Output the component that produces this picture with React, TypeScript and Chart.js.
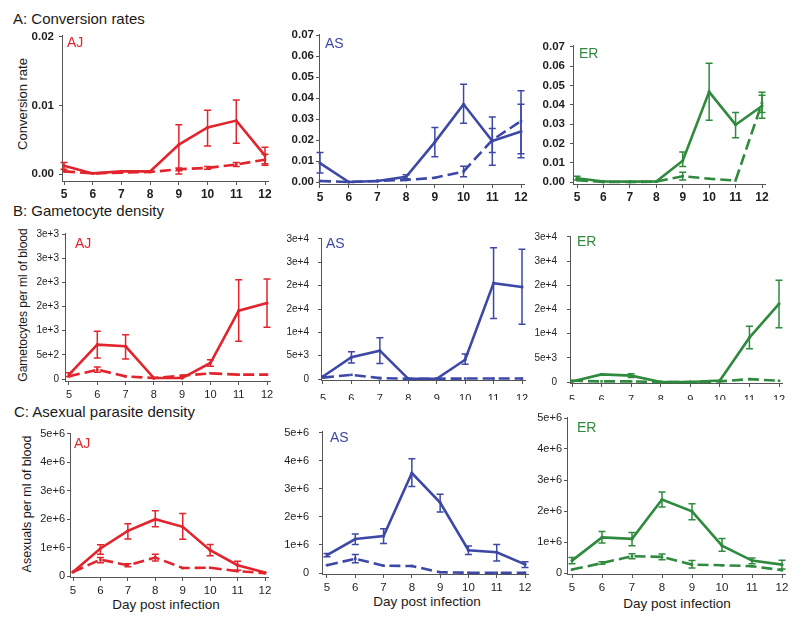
import React, { useEffect, useRef } from "react";
import { Chart, registerables } from "chart.js";
Chart.register(...registerables);

const FONT = '"Liberation Sans", Arial, Helvetica, sans-serif';
Chart.defaults.font.family = FONT;

const days = [5, 6, 7, 8, 9, 10, 11, 12];
const dayLabels = ["5", "6", "7", "8", "9", "10", "11", "12"];

const RED = "#e2242d";
const BLUE = "#3d48a6";
const GREEN = "#2f8a3e";

// ---- Tick values / labels
const convTicksAJ = [0, 0.01, 0.02];
const convLabelsAJ = ["0.00", "0.01", "0.02"];
const convTicks = [0, 0.01, 0.02, 0.03, 0.04, 0.05, 0.06, 0.07];
const convLabels = ["0.00", "0.01", "0.02", "0.03", "0.04", "0.05", "0.06", "0.07"];
const gamTicksAJ = [0, 500, 1000, 1500, 2000, 2500, 3000];
const gamLabelsAJ = ["0", "5e+2", "1e+3", "2e+3", "2e+3", "3e+3", "3e+3"];
const gamTicks = [0, 5000, 10000, 15000, 20000, 25000, 30000];
const gamLabels = ["0", "5e+3", "1e+4", "2e+4", "2e+4", "3e+4", "3e+4"];
const asxTicks = [0, 1e6, 2e6, 3e6, 4e6, 5e6];
const asxLabels = ["0", "1e+6", "2e+6", "3e+6", "4e+6", "5e+6"];

// ---- A: conversion rates
const convAJ = [0.0012, 0.0001, 0.0004, 0.0004, 0.0043, 0.0068, 0.0078, 0.0027];
const convAJHi = [0.0017, null, null, null, 0.0072, 0.0093, 0.0108, 0.0039];
const convAJLo = [0.0007, null, null, null, 0.0, 0.0041, 0.0045, 0.0015];
const convAJd = [0.0004, 0.0001, 0.0002, 0.0003, 0.0007, 0.0009, 0.0014, 0.0021];
const convAJdHi = [null, null, null, null, 0.0009, 0.0011, 0.0017, 0.0029];
const convAJdLo = [null, null, null, null, 0.0005, 0.0007, 0.0011, 0.0013];

const convAS = [0.009, 0.0, 0.0005, 0.0025, 0.019, 0.037, 0.0195, 0.024];
const convASHi = [0.014, null, null, 0.0035, 0.026, 0.0465, 0.031, 0.0435];
const convASLo = [0.0043, null, null, 0.0015, 0.012, 0.028, 0.008, 0.0135];
const convASd = [0.0005, 0.0, 0.0005, 0.001, 0.002, 0.005, 0.02, 0.029];
const convASdHi = [null, null, null, null, null, 0.0075, 0.0255, 0.037];
const convASdLo = [null, null, null, null, null, 0.0025, 0.014, 0.0115];

const convER = [0.002, 0.0003, 0.0002, 0.0003, 0.011, 0.0467, 0.0297, 0.0394];
const convERHi = [0.003, null, null, null, 0.0156, 0.0615, 0.036, 0.0465];
const convERLo = [0.001, null, null, null, 0.008, 0.032, 0.0229, 0.033];
const convERd = [0.001, 0.0, 0.0, 0.0002, 0.003, 0.0017, 0.0008, 0.041];
const convERdHi = [null, null, null, null, 0.005, null, null, 0.045];
const convERdLo = [null, null, null, null, 0.001, null, null, 0.036];

// ---- B: gametocyte density
const gamAJ = [90, 710, 676, 20, 20, 331, 1414, 1572];
const gamAJHi = [130, 986, 917, null, null, 400, 2055, 2069];
const gamAJLo = [50, 434, 414, null, null, 262, 779, 1069];
const gamAJd = [55, 193, 55, 20, 69, 117, 90, 90];
const gamAJdHi = [null, 248, null, null, null, null, null, null];
const gamAJdLo = [null, 138, null, null, null, null, null, null];

const gamAS = [550, 4690, 6070, 50, 50, 4140, 20550, 19720];
const gamASHi = [null, 5860, 8830, null, null, 5380, 28140, 27790];
const gamASLo = [null, 3450, 3310, null, null, 3170, 12970, 11720];
const gamASd = [300, 900, 200, 70, 70, 100, 100, 100];
const gamASdHi = [null, null, null, null, null, null, null, null];
const gamASdLo = [null, null, null, null, null, null, null, null];

const gamER = [130, 1585, 1321, 0, 0, 330, 9180, 16180];
const gamERHi = [null, null, 1700, null, null, null, 11560, 21070];
const gamERLo = [null, null, 950, null, null, null, 6870, 11230];
const gamERd = [260, 130, 130, 0, 0, 130, 600, 260];
const gamERdHi = [null, null, null, null, null, null, null, null];
const gamERdLo = [null, null, null, null, null, null, null, null];

// ---- C: asexual parasite density
const asxAJ = [140000, 970000, 1590000, 2000000, 1730000, 910000, 380000, 120000];
const asxAJHi = [null, 1100000, 1840000, 2300000, 2200000, 1110000, 520000, null];
const asxAJLo = [null, 770000, 1300000, 1730000, 1290000, 710000, 200000, null];
const asxAJd = [140000, 580000, 380000, 650000, 280000, 290000, 170000, 100000];
const asxAJdHi = [null, 650000, 430000, 770000, null, null, null, null];
const asxAJdLo = [null, 470000, 330000, 530000, null, null, null, null];

const asxAS = [640000, 1210000, 1320000, 3560000, 2510000, 810000, 740000, 310000];
const asxASHi = [700000, 1390000, 1580000, 4070000, 2800000, 960000, 1020000, 400000];
const asxASLo = [580000, 1020000, 1050000, 3080000, 2170000, 660000, 430000, 200000];
const asxASd = [280000, 510000, 260000, 250000, 30000, 10000, 10000, 10000];
const asxASdHi = [null, 660000, null, null, null, null, null, null];
const asxASdLo = [null, 370000, null, null, null, null, null, null];

const asxER = [400000, 1150000, 1100000, 2370000, 1990000, 880000, 400000, 270000];
const asxERHi = [500000, 1340000, 1310000, 2610000, 2230000, 1110000, 480000, 410000];
const asxERLo = [300000, 970000, 880000, 2130000, 1720000, 700000, 300000, 130000];
const asxERd = [110000, 320000, 540000, 520000, 270000, 250000, 220000, 90000];
const asxERdHi = [null, 360000, 620000, 610000, 400000, null, null, null];
const asxERdLo = [null, 280000, 460000, 430000, 160000, null, null, null];

type Layout = {
  axisX: number; x5: number; x12: number; yTop: number; yZero: number; axisY: number;
  yGap: number; xFont: number; xBold: boolean; yFont: number; yBold: boolean; xPad: number;
  showX: boolean; cut?: number;
};

type PanelDef = {
  id: string; color: string;
  solid: number[]; solidHi: (number | null)[]; solidLo: (number | null)[];
  dashed: number[]; dashedHi: (number | null)[]; dashedLo: (number | null)[];
  yTicks: number[]; yLabels: string[];
  layout: Layout;
};

const rowA = { xFont: 12, xBold: true, yFont: 11.5, yBold: true, xPad: 2, showX: true };
const rowB = { xFont: 11, xBold: false, yFont: 10, yBold: false, xPad: 3, showX: true };
const rowC = { xFont: 11.5, xBold: false, yFont: 11, yBold: false, xPad: 3, showX: true };

const panels: PanelDef[] = [
  { id: "A-AJ", color: RED, solid: convAJ, solidHi: convAJHi, solidLo: convAJLo, dashed: convAJd, dashedHi: convAJdHi, dashedLo: convAJdLo,
    yTicks: convTicksAJ, yLabels: convLabelsAJ,
    layout: { axisX: 62, x5: 64, x12: 265, yTop: 35, yZero: 174, axisY: 181, yGap: 8, ...rowA } },
  { id: "A-AS", color: BLUE, solid: convAS, solidHi: convASHi, solidLo: convASLo, dashed: convASd, dashedHi: convASdHi, dashedLo: convASdLo,
    yTicks: convTicks, yLabels: convLabels,
    layout: { axisX: 319, x5: 320, x12: 521, yTop: 35, yZero: 182, axisY: 184, yGap: 5, ...rowA } },
  { id: "A-ER", color: GREEN, solid: convER, solidHi: convERHi, solidLo: convERLo, dashed: convERd, dashedHi: convERdHi, dashedLo: convERdLo,
    yTicks: convTicks, yLabels: convLabels,
    layout: { axisX: 573, x5: 577, x12: 762, yTop: 45, yZero: 182, axisY: 184, yGap: 8, ...rowA } },
  { id: "B-AJ", color: RED, solid: gamAJ, solidHi: gamAJHi, solidLo: gamAJLo, dashed: gamAJd, dashedHi: gamAJdHi, dashedLo: gamAJdLo,
    yTicks: gamTicksAJ, yLabels: gamLabelsAJ,
    layout: { axisX: 65, x5: 69, x12: 267, yTop: 234, yZero: 379, axisY: 381, yGap: 6, ...rowB } },
  { id: "B-AS", color: BLUE, solid: gamAS, solidHi: gamASHi, solidLo: gamASLo, dashed: gamASd, dashedHi: gamASdHi, dashedLo: gamASdLo,
    yTicks: gamTicks, yLabels: gamLabels,
    layout: { axisX: 321, x5: 323, x12: 522, yTop: 234, yZero: 379, axisY: 380, yGap: 12, ...rowB, xPad: 8, cut: 400 } },
  { id: "B-ER", color: GREEN, solid: gamER, solidHi: gamERHi, solidLo: gamERLo, dashed: gamERd, dashedHi: gamERdHi, dashedLo: gamERdLo,
    yTicks: gamTicks, yLabels: gamLabels,
    layout: { axisX: 570, x5: 572, x12: 779, yTop: 231, yZero: 382, axisY: 383, yGap: 13, ...rowB, xPad: 6, cut: 400 } },
  { id: "C-AJ", color: RED, solid: asxAJ, solidHi: asxAJHi, solidLo: asxAJLo, dashed: asxAJd, dashedHi: asxAJdHi, dashedLo: asxAJdLo,
    yTicks: asxTicks, yLabels: asxLabels,
    layout: { axisX: 70, x5: 73, x12: 265, yTop: 434, yZero: 576, axisY: 577, yGap: 5, ...rowC } },
  { id: "C-AS", color: BLUE, solid: asxAS, solidHi: asxASHi, solidLo: asxASLo, dashed: asxASd, dashedHi: asxASdHi, dashedLo: asxASdLo,
    yTicks: asxTicks, yLabels: asxLabels,
    layout: { axisX: 322, x5: 327, x12: 525, yTop: 426, yZero: 573, axisY: 574, yGap: 13, ...rowC } },
  { id: "C-ER", color: GREEN, solid: asxER, solidHi: asxERHi, solidLo: asxERLo, dashed: asxERd, dashedHi: asxERdHi, dashedLo: asxERdLo,
    yTicks: asxTicks, yLabels: asxLabels,
    layout: { axisX: 567, x5: 572, x12: 782, yTop: 418, yZero: 573, axisY: 574, yGap: 5, ...rowC } },
];

const errorBarPlugin = {
  id: "errbars",
  afterDatasetsDraw(chart: any) {
    const ctx = chart.ctx;
    const xs = chart.scales.x;
    const ys = chart.scales.y;
    chart.data.datasets.forEach((ds: any) => {
      const hi = ds.errHi;
      const lo = ds.errLo;
      if (!hi || !lo) return;
      ctx.save();
      ctx.strokeStyle = ds.borderColor;
      ctx.lineWidth = 1.5;
      ctx.setLineDash([]);
      ds.data.forEach((p: any, i: number) => {
        if (hi[i] == null || lo[i] == null) return;
        const x = xs.getPixelForValue(p.x);
        const y1 = ys.getPixelForValue(hi[i]);
        const y2 = ys.getPixelForValue(lo[i]);
        ctx.beginPath();
        ctx.moveTo(x, y1);
        ctx.lineTo(x, y2);
        ctx.moveTo(x - 3.5, y1);
        ctx.lineTo(x + 3.5, y1);
        ctx.moveTo(x - 3.5, y2);
        ctx.lineTo(x + 3.5, y2);
        ctx.stroke();
      });
      ctx.restore();
    });
  },
};

const AXIS = "#555";
const TICKTXT = "#1e1e1e";
const L = 52, T = 10, R = 14;

function PanelChart({ p }: { p: PanelDef }) {
  const ref = useRef<HTMLCanvasElement | null>(null);
  const lay = p.layout;
  const B = lay.cut ? lay.cut - lay.axisY : lay.showX ? 26 : 10;
  const top = lay.yTop - 1;
  const right = lay.x12 + 3;
  const width = L + (right - lay.axisX) + R;
  const height = T + (lay.axisY - top) + B;

  useEffect(() => {
    if (!ref.current) return;
    const topVal = p.yTicks[p.yTicks.length - 1];
    const pxPerUnit = (lay.yZero - lay.yTop) / topVal;
    const yMin = -(lay.axisY - lay.yZero) / pxPerUnit;
    const yMax = topVal + 1 / pxPerUnit;
    const pxPerDay = (lay.x12 - lay.x5) / 7;
    const xMin = 5 - (lay.x5 - lay.axisX) / pxPerDay;
    const xMax = 12 + 3 / pxPerDay;

    const mk = (vals: number[]) => days.map((d, i) => ({ x: d, y: vals[i] }));
    const chart = new Chart(ref.current, {
      type: "line",
      data: {
        datasets: [
          {
            data: mk(p.solid), borderColor: p.color, backgroundColor: p.color,
            borderWidth: 2.6, pointRadius: 1.6, pointBorderWidth: 0, tension: 0, clip: false,
            errHi: p.solidHi, errLo: p.solidLo,
          } as any,
          {
            data: mk(p.dashed), borderColor: p.color, backgroundColor: p.color,
            borderWidth: 2.6, borderDash: [11, 5], pointRadius: 1.8, pointStyle: "rect", pointBorderWidth: 0,
            tension: 0, clip: false,
            errHi: p.dashedHi, errLo: p.dashedLo,
          } as any,
        ],
      },
      options: {
        animation: false,
        responsive: false,
        events: [],
        layout: { padding: { left: 0, top: T, right: R, bottom: 0 } },
        plugins: { legend: { display: false }, tooltip: { enabled: false } },
        scales: {
          x: {
            type: "linear", min: xMin, max: xMax,
            afterBuildTicks: (s: any) => { s.ticks = days.map((v) => ({ value: v })); },
            afterFit: (s: any) => { s.height = B; },
            grid: { display: true, drawOnChartArea: false, drawTicks: true, tickLength: 4, color: AXIS },
            border: { display: true, color: AXIS, width: 1 },
            ticks: {
              display: lay.showX, color: TICKTXT, padding: lay.xPad, maxRotation: 0, autoSkip: false,
              font: { size: lay.xFont, weight: lay.xBold ? "bold" : "normal", family: FONT },
              callback: (v: any) => dayLabels[days.indexOf(Number(v))] ?? "",
            },
          },
          y: {
            type: "linear", min: yMin, max: yMax,
            afterBuildTicks: (s: any) => { s.ticks = p.yTicks.map((v) => ({ value: v })); },
            afterFit: (s: any) => { s.width = L; },
            grid: { display: true, drawOnChartArea: false, drawTicks: true, tickLength: 3, color: AXIS },
            border: { display: true, color: AXIS, width: 1 },
            ticks: {
              color: TICKTXT, padding: Math.max(1, lay.yGap - 3), autoSkip: false,
              font: { size: lay.yFont, weight: lay.yBold ? "bold" : "normal", family: FONT },
              callback: (v: any) => {
                const idx = p.yTicks.findIndex((t) => Math.abs(t - Number(v)) < 1e-9 * Math.max(1, topVal));
                return idx >= 0 ? p.yLabels[idx] : "";
              },
            },
          },
        },
      } as any,
      plugins: [errorBarPlugin],
    });
    return () => chart.destroy();
  }, []);

  return (
    <canvas
      ref={ref}
      width={width}
      height={height}
      style={{ position: "absolute", left: lay.axisX - L, top: top - T, width, height }}
    />
  );
}

const panelTags = [
  { text: "AJ", color: RED, x: 67, y: 42 },
  { text: "AS", color: BLUE, x: 325, y: 43 },
  { text: "ER", color: GREEN, x: 579, y: 53 },
  { text: "AJ", color: RED, x: 75, y: 243 },
  { text: "AS", color: BLUE, x: 326, y: 243 },
  { text: "ER", color: GREEN, x: 577, y: 241 },
  { text: "AJ", color: RED, x: 74, y: 443 },
  { text: "AS", color: BLUE, x: 330, y: 437 },
  { text: "ER", color: GREEN, x: 577, y: 427 },
];

const sectionTitles = [
  { text: "A: Conversion rates", x: 13, y: 18 },
  { text: "B: Gametocyte density", x: 13, y: 210 },
  { text: "C: Asexual parasite density", x: 14, y: 411 },
];

const yTitles = [
  { text: "Conversion rate", x: 22, y: 104, size: 13 },
  { text: "Gametocytes per ml of blood", x: 23, y: 305, size: 12 },
  { text: "Asexuals per ml of blood", x: 27, y: 504, size: 12.5 },
];

const xTitles = [
  { text: "Day post infection", x: 166, y: 605 },
  { text: "Day post infection", x: 427, y: 602 },
  { text: "Day post infection", x: 677, y: 604 },
];

export default function App() {
  return (
    <div
      style={{
        position: "absolute", left: 0, top: 0, width: 800, height: 619, background: "#fff",
        overflow: "hidden", fontFamily: FONT, color: "#1a1a1a",
      }}
    >
      {sectionTitles.map((t, i) => (
        <div key={"s" + i} style={{ position: "absolute", left: t.x, top: t.y, transform: "translateY(-50%)", fontSize: 15, lineHeight: 1, whiteSpace: "nowrap" }}>
          {t.text}
        </div>
      ))}
      {yTitles.map((t, i) => (
        <div key={"y" + i} style={{ position: "absolute", left: t.x, top: t.y, transform: "translate(-50%, -50%) rotate(-90deg)", fontSize: t.size, lineHeight: 1, whiteSpace: "nowrap" }}>
          {t.text}
        </div>
      ))}
      {xTitles.map((t, i) => (
        <div key={"x" + i} style={{ position: "absolute", left: t.x, top: t.y, transform: "translate(-50%, -50%)", fontSize: 13.5, lineHeight: 1, whiteSpace: "nowrap" }}>
          {t.text}
        </div>
      ))}
      {panels.map((p) => (
        <PanelChart key={p.id} p={p} />
      ))}
      {panelTags.map((t, i) => (
        <div key={"t" + i} style={{ position: "absolute", left: t.x, top: t.y, transform: "translateY(-50%)", fontSize: 14, lineHeight: 1, color: t.color, whiteSpace: "nowrap" }}>
          {t.text}
        </div>
      ))}
    </div>
  );
}
